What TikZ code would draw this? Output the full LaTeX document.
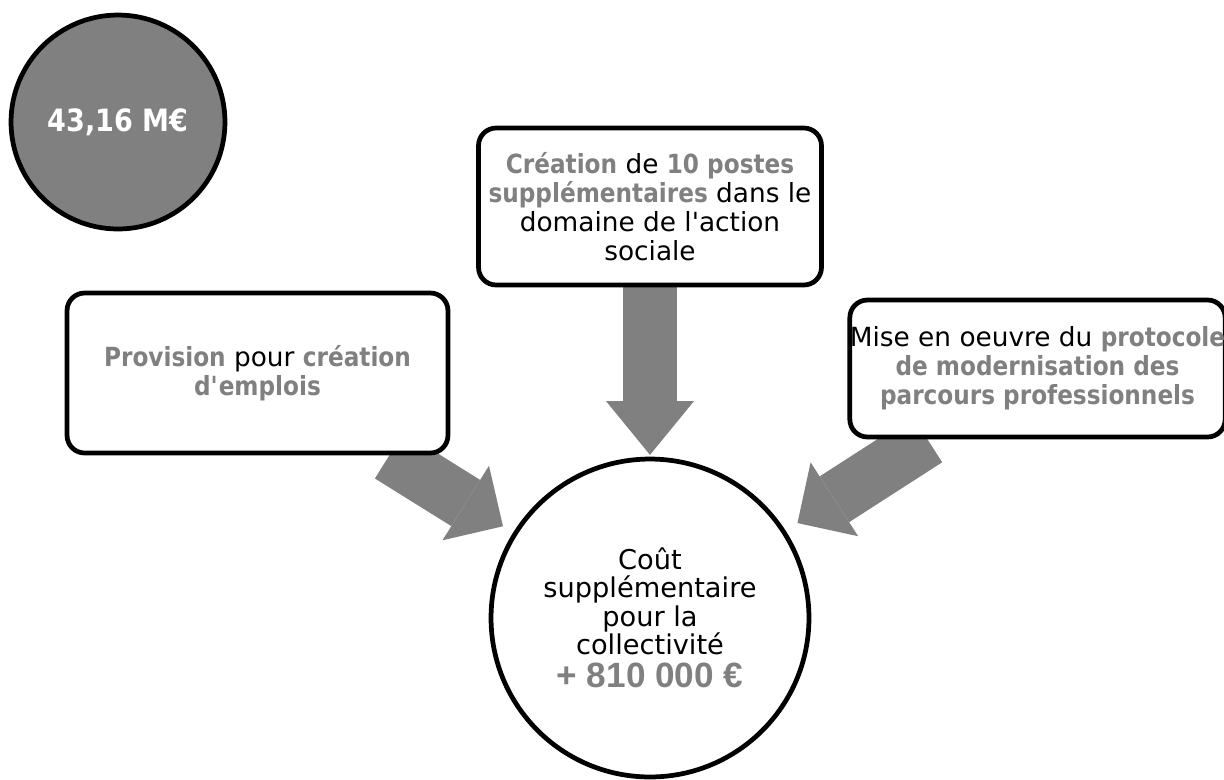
\documentclass[tikz,border=0pt]{standalone}
\usepackage{fontspec}
\setmainfont{DejaVu Sans}[BoldFeatures={FakeStretch=0.88}]
\newfontfamily\sumfont{Liberation Sans}
\usetikzlibrary{arrows.meta,backgrounds}
\definecolor{midgray}{HTML}{808080}
\newcommand{\emphgray}[1]{\textbf{\color{midgray}#1}}
\tikzset{
	box/.style={draw, line width=2.7pt, rounded corners=10pt, fill=white, align=center, inner sep=0pt, font=\fontsize{15}{16.5}\selectfont},
	bigarrow/.style={draw=midgray, line width=31pt, -{Triangle[width=50pt,length=#1,line width=0pt]}},
}
\begin{document}
\begin{tikzpicture}[x=0.02cm, y=-0.02cm]
		\useasboundingbox (0,0) rectangle (1224,779);
		\node[circle, draw, line width=2.7pt, fill=midgray, minimum size=4.28cm, text=white, font=\fontsize{17.5}{20}\selectfont\bfseries] (total) at (118,122) {43,16 M€};
		\node[box, minimum width=6.86cm, minimum height=3.14cm] (top) at (650,206.5) {\emphgray{Création} de \emphgray{10 postes}\\ \emphgray{supplémentaires} dans le\\ domaine de l\textquotesingle action\\ sociale};
		\node[box, minimum width=7.62cm, minimum height=3.2cm] (left) at (257.5,373) {\emphgray{Provision} pour \emphgray{création}\\ \emphgray{d\textquotesingle emplois}};
		\node[box, minimum width=7.38cm, minimum height=2.74cm] (right) at (1037.5,368.5) {Mise en oeuvre du \emphgray{protocole}\\ \emphgray{de modernisation des}\\ \emphgray{parcours professionnels}};
		\node[circle, draw, line width=2.7pt, fill=white, minimum size=6.36cm, inner sep=0pt, align=center, font=\fontsize{15.5}{16}\selectfont] (cost) at (650,618) {Coût\\ supplémentaire\\ pour la\\ collectivité\\[3pt] {\sumfont\bfseries\fontsize{20}{22}\selectfont\color{midgray}+ 810 000 €}};
		\begin{scope}[on background layer]
		\draw[bigarrow=30.6pt, shorten >=1pt] (top) -- (cost);
		\draw[bigarrow=25pt, shorten >=6.8pt] (left) -- (cost);
		\draw[bigarrow=25pt, shorten >=8pt] (right) -- (cost);
		\end{scope}
\end{tikzpicture}
\end{document}
